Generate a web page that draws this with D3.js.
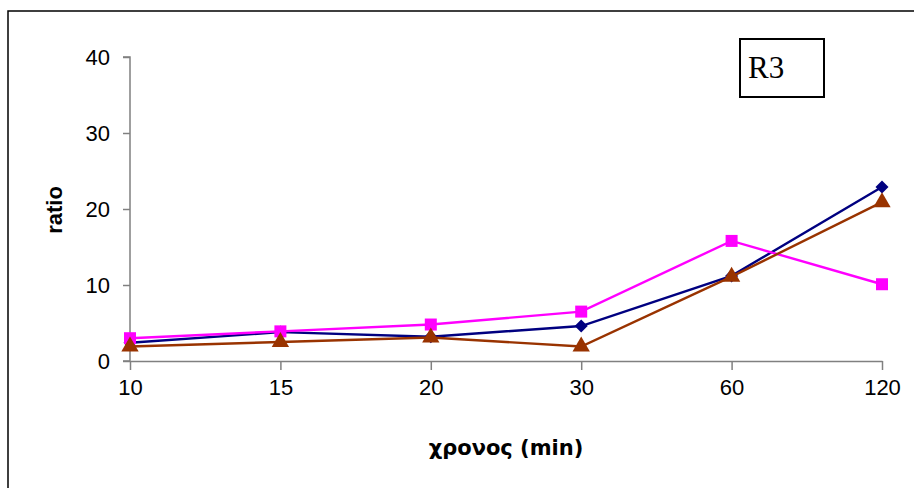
<!doctype html>
<html>
<head>
<meta charset="utf-8">
<script src="https://cdn.jsdelivr.net/npm/d3@7"></script>
<style>
  body { margin: 0; background: #fff; }
  svg { display: block; }
</style>
</head>
<body>
<div id="viz"></div>
<script>
// categories (time, min) and the three series
const times = ["10", "15", "20", "30", "60", "120"];
const navyVals = [2.4, 3.8, 3.2, 4.6, 11.2, 22.9];
const pinkVals = [3.0, 3.9, 4.8, 6.5, 15.8, 10.1];
const brownVals = [1.9, 2.5, 3.1, 1.9, 11.1, 20.9];
const yTicks = [0, 10, 20, 30, 40];

const W = 914, H = 488;
const svg = d3.select("#viz").append("svg")
  .attr("width", W).attr("height", H);

// outer chart frame (runs off the right and bottom edges)
svg.append("rect")
  .attr("x", 8).attr("y", 11)
  .attr("width", 1000).attr("height", 1000)
  .attr("fill", "none").attr("stroke", "#000").attr("stroke-width", 1.5);

const x = d3.scalePoint().domain(times).range([130, 882]);
const y = d3.scaleLinear().domain([0, 40]).range([361, 57]);

const axisColor = "#808080";
const tickFont = "22px 'Liberation Sans', Arial, sans-serif";

// y axis
const yAxis = svg.append("g")
  .attr("transform", "translate(130,0)")
  .call(d3.axisLeft(y).tickValues(yTicks).tickSize(7).tickPadding(13));
// x axis
const xAxis = svg.append("g")
  .attr("transform", "translate(0,361)")
  .call(d3.axisBottom(x).tickSize(9).tickSizeOuter(0).tickPadding(9));

[yAxis, xAxis].forEach(a => {
  a.select(".domain").attr("stroke", axisColor).attr("stroke-width", 1.5);
  a.selectAll(".tick line").attr("stroke", axisColor).attr("stroke-width", 1.5);
  a.selectAll(".tick text").style("font", tickFont).attr("fill", "#000");
});
yAxis.select(".domain").attr("d", "M-7,57H0V361H-7");

// axis titles
svg.append("text")
  .attr("transform", "translate(62,210) rotate(-90)")
  .attr("text-anchor", "middle")
  .style("font", "bold 22px 'Liberation Sans', Arial, sans-serif")
  .text("ratio");

svg.append("text")
  .attr("x", 506).attr("y", 455)
  .attr("text-anchor", "middle")
  .style("font", "bold 21px 'DejaVu Sans', 'Liberation Sans', sans-serif")
  .text("χρονος (min)");

const series = [
  { vals: navyVals, color: "#000080", shape: d3.symbolSquare, size: 85, rot: 45 },
  { vals: pinkVals, color: "#FF00FF", shape: d3.symbolSquare, size: 144, rot: 0 },
  { vals: brownVals, color: "#993300", shape: d3.symbolTriangle, size: 130, rot: 0 }
];

const line = d3.line()
  .x((d, i) => x(times[i]))
  .y(d => y(d));

series.forEach(s => {
  const g = svg.append("g");
  g.append("path")
    .datum(s.vals)
    .attr("d", line)
    .attr("fill", "none")
    .attr("stroke", s.color)
    .attr("stroke-width", 2.4);
  g.selectAll("path.pt")
    .data(s.vals)
    .join("path")
    .attr("class", "pt")
    .attr("transform", (d, i) => `translate(${x(times[i])},${y(d)}) rotate(${s.rot})`)
    .attr("d", d3.symbol().type(s.shape).size(s.size))
    .attr("fill", s.color);
});

// R3 label box
svg.append("rect")
  .attr("x", 740).attr("y", 39)
  .attr("width", 84).attr("height", 58)
  .attr("fill", "#fff").attr("stroke", "#000").attr("stroke-width", 2);
svg.append("text")
  .attr("x", 748).attr("y", 78)
  .style("font", "31px 'Liberation Serif', 'Times New Roman', serif")
  .text("R3");
</script>
</body>
</html>
